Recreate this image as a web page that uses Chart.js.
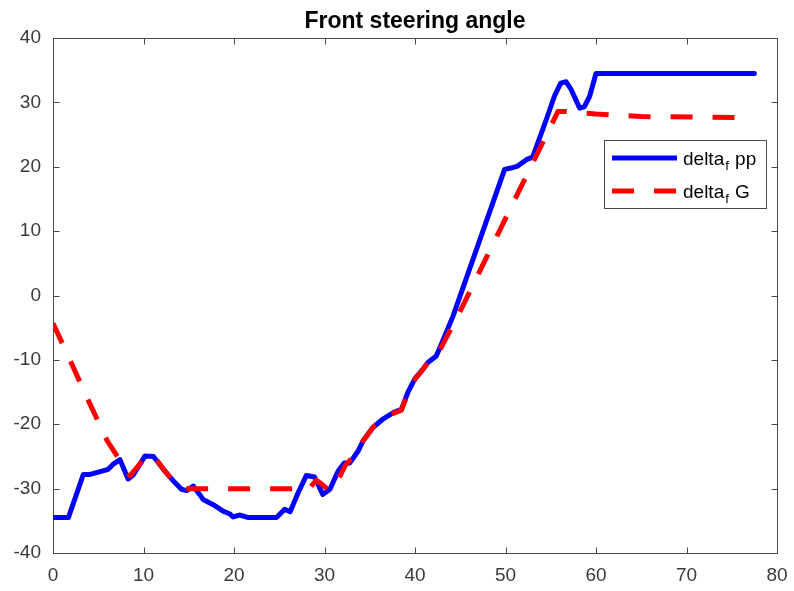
<!DOCTYPE html>
<html>
<head>
<meta charset="utf-8">
<title>Front steering angle</title>
<script src="https://cdn.jsdelivr.net/npm/chart.js@4/dist/chart.umd.min.js"></script>
<style>
  html, body { margin: 0; padding: 0; background: #fff; }
  #wrap { width: 794px; height: 591px; }
</style>
</head>
<body>
<div id="wrap"><canvas id="chart" width="794" height="591"></canvas></div>
<script>
// Front steering angle: path-planner output (pp) vs. G

const TITLE = 'Front steering angle';
const X_TICKS = [0, 10, 20, 30, 40, 50, 60, 70, 80];
const Y_TICKS = [-40, -30, -20, -10, 0, 10, 20, 30, 40];

// delta_f pp (solid blue)
const PP_X = [0, 1.7, 3.35, 4.1, 6.1, 6.65, 7.4, 8.3, 8.9, 10.15, 11.1, 12.2, 13.3, 14.2, 14.75,
  15.5, 16.2, 16.6, 17.7, 18.8, 19.5, 19.9, 20.6, 21.6, 24.7, 25.6, 26.2, 27.1, 28.0, 28.9,
  29.8, 30.6, 31.5, 32.2, 32.8, 33.7, 34.25, 35.35, 36.5, 37.6, 38.5, 39.2, 39.96, 40.7, 41.4,
  42.35, 42.9, 44.2, 49.9, 50.6, 51.35, 52.3, 53.0, 54.5, 55.4, 56.1, 56.7, 57.25, 58.2, 58.7,
  59.3, 60.0, 77.5];
const PP_Y = [-34.5, -34.5, -27.8, -27.8, -27.0, -26.2, -25.5, -28.5, -27.8, -24.95, -25.0, -27.0, -28.8, -30.1, -30.3,
  -29.6, -30.9, -31.7, -32.5, -33.5, -33.9, -34.4, -34.1, -34.5, -34.5, -33.2, -33.6, -30.6, -27.95, -28.2,
  -30.9, -30.1, -27.3, -26.0, -26.0, -24.2, -22.6, -20.5, -19.15, -18.2, -17.7, -15.1, -13.0, -11.75, -10.45,
  -9.4, -7.6, -3.2, 19.6, 19.8, 20.1, 21.1, 21.5, 27.3, 30.95, 33.0, 33.2, 32.0, 29.1, 29.3,
  30.95, 34.5, 34.5];

// delta_f G (dashed red)
const G_X = [0, 2, 4, 6, 7.4, 8.5, 10.4, 11.2, 12.2, 13.3, 14.3, 28.3, 29.1, 29.6, 30.5, 31.0,
  32.3, 33.7, 34.25, 35.35, 36.5, 37.6, 38.5, 39.2, 40.0, 40.7, 41.4, 42.35, 43.0, 44.9,
  55.8, 56.5, 60, 65, 77.5];
const G_Y = [-4.3, -10.4, -16.6, -22.6, -25.6, -28.0, -24.8, -25.0, -27.0, -28.8, -30.0, -30.0, -28.7, -29.2, -30.3, -30.0,
  -26.4, -24.2, -22.6, -20.5, -19.2, -18.3, -17.8, -15.2, -13.0, -11.8, -10.5, -9.6, -7.8, -2.7,
  28.6, 28.6, 28.2, 27.8, 27.6];

// legend text: [main, subscript, rest]
const LEGEND_TEXT = [['delta', 'f', ' pp'], ['delta', 'f', ' G']];

const FONT = '"Liberation Sans", Arial, Helvetica, sans-serif';
const TICK_COLOR = '#3a3a3a';
const BOX_COLOR = '#4a4a4a';

function toPoints(xs, ys) {
  return xs.map((x, i) => ({ x: x, y: ys[i] }));
}

// MATLAB-like axes box with inward ticks on all four sides, plus title
const boxPlugin = {
  id: 'box',
  beforeDatasetsDraw(chart) {
    const { ctx, chartArea: a, scales } = chart;
    const L = Math.round(a.left) + 0.5, R = Math.round(a.right) + 0.5;
    const T = Math.round(a.top) + 0.5, B = Math.round(a.bottom) + 0.5;
    const tl = 6;
    ctx.save();
    ctx.strokeStyle = BOX_COLOR;
    ctx.lineWidth = 1;
    ctx.strokeRect(L, T, R - L, B - T);
    ctx.beginPath();
    scales.x.ticks.forEach(t => {
      const px = Math.round(scales.x.getPixelForValue(t.value)) + 0.5;
      ctx.moveTo(px, B); ctx.lineTo(px, B - tl);
      ctx.moveTo(px, T); ctx.lineTo(px, T + tl);
    });
    scales.y.ticks.forEach(t => {
      const py = Math.round(scales.y.getPixelForValue(t.value)) + 0.5;
      ctx.moveTo(L, py); ctx.lineTo(L + tl, py);
      ctx.moveTo(R, py); ctx.lineTo(R - tl, py);
    });
    ctx.stroke();

    ctx.fillStyle = '#000';
    ctx.font = 'bold 23px ' + FONT;
    ctx.textAlign = 'center';
    ctx.textBaseline = 'alphabetic';
    ctx.fillText(TITLE, (a.left + a.right) / 2, 28);
    ctx.restore();
  }
};

// legend with subscript "f", drawn inside the plot like MATLAB's
const legendPlugin = {
  id: 'subLegend',
  afterDatasetsDraw(chart) {
    const { ctx } = chart;
    const bx = 604.5, by = 140.5, bw = 162, bh = 68;
    ctx.save();
    ctx.fillStyle = '#fff';
    ctx.fillRect(bx, by, bw, bh);
    ctx.strokeStyle = BOX_COLOR;
    ctx.lineWidth = 1;
    ctx.strokeRect(bx, by, bw, bh);

    const rows = [158, 191];
    chart.data.datasets.forEach((ds, i) => {
      const y = rows[i];
      ctx.beginPath();
      ctx.strokeStyle = ds.borderColor;
      ctx.lineWidth = ds.borderWidth;
      ctx.setLineDash(ds.borderDash || []);
      ctx.moveTo(612, y);
      ctx.lineTo(677, y);
      ctx.stroke();
      ctx.setLineDash([]);

      const [main, sub, rest] = LEGEND_TEXT[i];
      let x = 683;
      const base = y + 7;
      ctx.fillStyle = '#000';
      ctx.textBaseline = 'alphabetic';
      ctx.textAlign = 'left';
      ctx.font = '19px ' + FONT;
      ctx.fillText(main, x, base);
      x += ctx.measureText(main).width;
      ctx.font = '13px ' + FONT;
      ctx.fillText(sub, x + 1, base + 5);
      x += ctx.measureText(sub).width + 2;
      ctx.font = '19px ' + FONT;
      ctx.fillText(rest, x, base);
    });
    ctx.restore();
  }
};

new Chart(document.getElementById('chart'), {
  type: 'line',
  data: {
    datasets: [
      {
        label: 'delta_f pp',
        data: toPoints(PP_X, PP_Y),
        borderColor: '#0000ff',
        borderWidth: 5,
        borderJoinStyle: 'round',
        borderCapStyle: 'round',
        pointRadius: 0,
        tension: 0,
        order: 2
      },
      {
        label: 'delta_f G',
        data: toPoints(G_X, G_Y),
        borderColor: '#ff0000',
        borderWidth: 5,
        borderDash: [22, 20],
        borderJoinStyle: 'round',
        borderCapStyle: 'butt',
        pointRadius: 0,
        tension: 0,
        order: 1
      }
    ]
  },
  options: {
    responsive: false,
    animation: false,
    devicePixelRatio: 1,
    layout: { padding: { left: 0, right: 17, top: 38, bottom: 0 } },
    plugins: {
      legend: { display: false },
      title: { display: false },
      tooltip: { enabled: false }
    },
    scales: {
      x: {
        type: 'linear',
        min: 0,
        max: 80,
        afterBuildTicks: s => { s.ticks = X_TICKS.map(v => ({ value: v })); },
        afterFit: s => { s.height = 38; s.paddingLeft = 0; s.paddingRight = 0; },
        grid: { display: false, drawTicks: false },
        border: { display: false },
        ticks: {
          padding: 11,
          maxRotation: 0,
          autoSkip: false,
          color: TICK_COLOR,
          font: { family: FONT, size: 19 }
        }
      },
      y: {
        type: 'linear',
        min: -40,
        max: 40,
        afterBuildTicks: s => { s.ticks = Y_TICKS.map(v => ({ value: v })); },
        afterFit: s => { s.width = 53; s.paddingTop = 0; s.paddingBottom = 0; },
        grid: { display: false, drawTicks: false },
        border: { display: false },
        ticks: {
          padding: 12,
          autoSkip: false,
          color: TICK_COLOR,
          font: { family: FONT, size: 19 }
        }
      }
    }
  },
  plugins: [boxPlugin, legendPlugin]
});
</script>
</body>
</html>
